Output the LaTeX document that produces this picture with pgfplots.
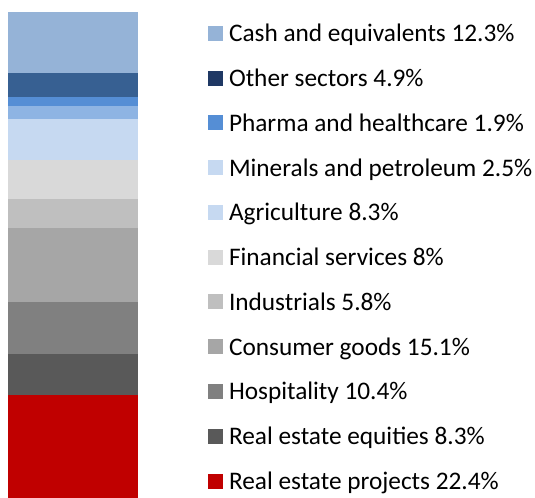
\documentclass[border=0pt]{standalone}
\usepackage{pgfplots}
\pgfplotsset{compat=1.18}
\usepackage{fontspec}
\setmainfont{Carlito}
\definecolor{cCash}{HTML}{95B3D7}
\definecolor{cOtherBar}{HTML}{376092}
\definecolor{cOtherLeg}{HTML}{1F3864}
\definecolor{cPharma}{HTML}{558ED5}
\definecolor{cMinBar}{HTML}{8EB4E3}
\definecolor{cMinLeg}{HTML}{C6D9F1}
\definecolor{cAgri}{HTML}{C6D9F1}
\definecolor{cFin}{HTML}{D9D9D9}
\definecolor{cInd}{HTML}{BFBFBF}
\definecolor{cCons}{HTML}{A6A6A6}
\definecolor{cHosp}{HTML}{808080}
\definecolor{cREeq}{HTML}{595959}
\definecolor{cREpr}{HTML}{C00000}
\begin{document}
\begin{tikzpicture}
\path[use as bounding box] (0,0) rectangle (535bp,498bp);
\begin{axis}[
  at={(8bp,0bp)}, anchor=south west,
  scale only axis, width=130bp, height=486bp,
  hide axis,
  ybar stacked, bar width=1,
  xmin=-0.5, xmax=0.5, ymin=1.5, ymax=99.9,
  legend cell align=left,
  legend image code/.code={\fill[#1, draw=none] (0bp,-11.5bp) rectangle (15bp,3.5bp);},
  legend style={
    at={(axis description cs:1.5385,1.0104)}, anchor=north west,
    draw=none, fill=none, inner sep=0pt, outer sep=0pt,
    column sep=6bp, row sep=0pt,
    nodes={inner sep=0pt, outer sep=0pt, text height=34.77bp, text depth=10bp},
    font=\fontsize{25.3bp}{30bp}\selectfont,
  },
]
\addplot[fill=cREpr, draw=none, forget plot] coordinates {(0,22.4)};
\addplot[fill=cREeq, draw=none, forget plot] coordinates {(0,8.3)};
\addplot[fill=cHosp, draw=none, forget plot] coordinates {(0,10.4)};
\addplot[fill=cCons, draw=none, forget plot] coordinates {(0,15.1)};
\addplot[fill=cInd, draw=none, forget plot] coordinates {(0,5.8)};
\addplot[fill=cFin, draw=none, forget plot] coordinates {(0,8)};
\addplot[fill=cAgri, draw=none, forget plot] coordinates {(0,8.3)};
\addplot[fill=cMinBar, draw=none, forget plot] coordinates {(0,2.5)};
\addplot[fill=cPharma, draw=none, forget plot] coordinates {(0,1.9)};
\addplot[fill=cOtherBar, draw=none, forget plot] coordinates {(0,4.9)};
\addplot[fill=cCash, draw=none, forget plot] coordinates {(0,12.3)};
\addlegendimage{fill=cCash}
\addlegendentry{Cash and equivalents 12.3\%}
\addlegendimage{fill=cOtherLeg}
\addlegendentry{Other sectors 4.9\%}
\addlegendimage{fill=cPharma}
\addlegendentry{Pharma and healthcare 1.9\%}
\addlegendimage{fill=cMinLeg}
\addlegendentry{Minerals and petroleum 2.5\%}
\addlegendimage{fill=cAgri}
\addlegendentry{Agriculture 8.3\%}
\addlegendimage{fill=cFin}
\addlegendentry{Financial services 8\%}
\addlegendimage{fill=cInd}
\addlegendentry{Industrials 5.8\%}
\addlegendimage{fill=cCons}
\addlegendentry{Consumer goods 15.1\%}
\addlegendimage{fill=cHosp}
\addlegendentry{Hospitality 10.4\%}
\addlegendimage{fill=cREeq}
\addlegendentry{Real estate equities 8.3\%}
\addlegendimage{fill=cREpr}
\addlegendentry{Real estate projects 22.4\%}
\end{axis}
\end{tikzpicture}
\end{document}
